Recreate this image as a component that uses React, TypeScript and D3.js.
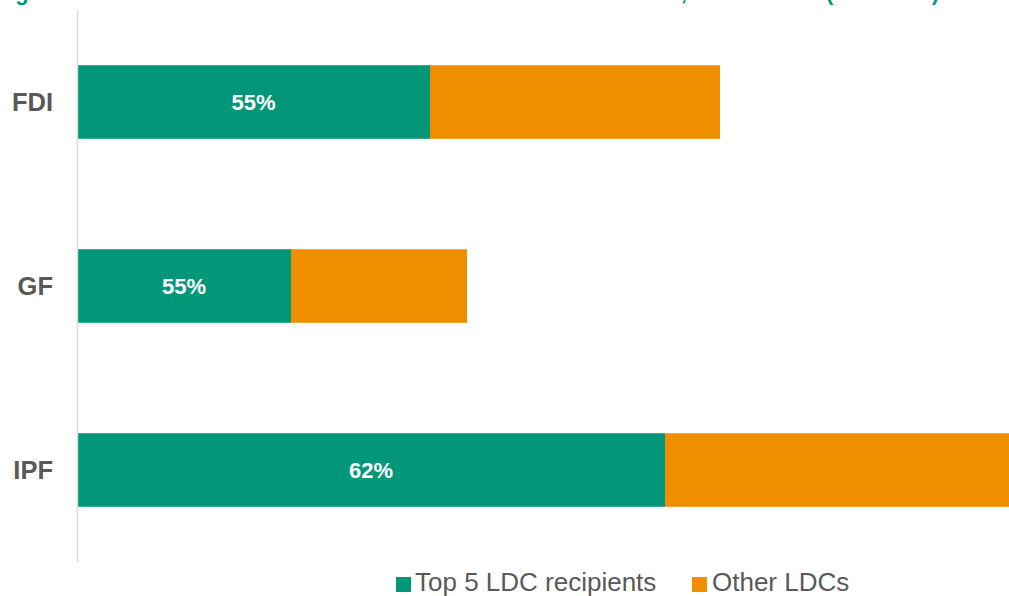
import React from "react";
import * as d3 from "d3";

const categories = ["FDI", "GF", "IPF"];
const top5Values = [35.3, 21.4, 58.8];
const otherValues = [29.0, 17.6, 36.0];
const shareLabels = ["55%", "55%", "62%"];
const seriesNames = ["Top 5 LDC recipients", "Other LDCs"];
const seriesColors = ["#03977A", "#F18E00"];

const W = 1009;
const H = 596;

export default function App() {
  const x = d3.scaleLinear().domain([0, 100]).range([77, 1077]);
  const y = d3.scaleBand().domain(categories).range([10, 562]).paddingInner(0.6).paddingOuter(0.3);
  const bw = y.bandwidth();
  const font = "'Liberation Sans', Arial, sans-serif";

  return (
    <svg
      width={W}
      height={H}
      style={{ position: "absolute", left: 0, top: 0, overflow: "hidden", background: "#fff" }}
      fontFamily={font}
    >
      {/* clipped title remnants */}
      <g fill="#03977A" fontWeight="bold" fontSize={22}>
        <text x={-3} y={0} textLength={690} lengthAdjust="spacing">
          Figure 2. Share of the five main LDC beneficiaries in total LDC inflows,
        </text>
        <text x={700} y={0}>2012–2021</text>
        <text x={826} y={0} textLength={113} lengthAdjust="spacing">(in billions)</text>
      </g>

      {categories.map((c, i) => {
        const y0 = y(c)!;
        const xa = x(0);
        const xb = x(top5Values[i]);
        const xc = x(top5Values[i] + otherValues[i]);
        return (
          <g key={c}>
            <rect x={xa} y={y0} width={xb - xa} height={bw} fill={seriesColors[0]} />
            <rect x={xb} y={y0} width={xc - xb} height={bw} fill={seriesColors[1]} />
            <text
              x={(xa + xb) / 2}
              y={y0 + bw / 2 + 8}
              textAnchor="middle"
              fill="#fff"
              fontWeight="bold"
              fontSize={22}
            >
              {shareLabels[i]}
            </text>
            <text
              x={53}
              y={y0 + bw / 2 + 9}
              textAnchor="end"
              fill="#595959"
              fontWeight="bold"
              fontSize={25.5}
            >
              {c}
            </text>
          </g>
        );
      })}

      <line x1={77.5} x2={77.5} y1={10} y2={562} stroke="#D9D9D9" strokeWidth={1.5} />

      {/* legend */}
      <g fontSize={26} fill="#595959">
        <rect x={396} y={577} width={15} height={15} fill={seriesColors[0]} />
        <text x={415} y={591}>{seriesNames[0]}</text>
        <rect x={692} y={577} width={15} height={15} fill={seriesColors[1]} />
        <text x={712} y={591}>{seriesNames[1]}</text>
      </g>
    </svg>
  );
}
